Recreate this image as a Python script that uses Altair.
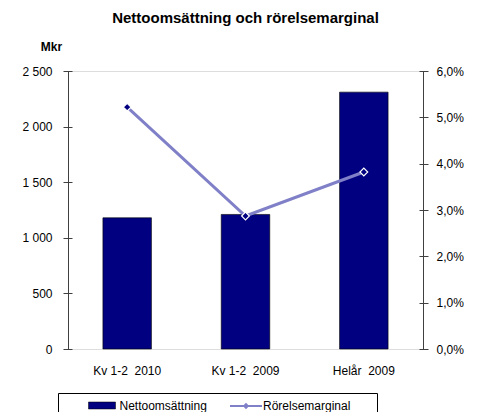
import altair as alt
import pandas as pd

categories = ["Kv 1-2\u00a0\u00a02010", "Kv 1-2\u00a0\u00a02009", "Helår\u00a0\u00a02009"]
net_sales = [1180, 1210, 2310]
margin = [0.0522, 0.0287, 0.0382]
series = ["Nettoomsättning", "Rörelsemarginal"]
left_ticks = [0, 500, 1000, 1500, 2000, 2500]
right_ticks = [0, 0.01, 0.02, 0.03, 0.04, 0.05, 0.06]

df = pd.DataFrame({
    "cat": categories,
    "sales": net_sales,
    "margin": margin,
    "s_bar": series[0],
    "s_line": series[1],
})

FONT = "Liberation Sans"
NAVY = "#000080"
LINE = "#8080C8"
AXC = "#404040"
FS = 12

xenc = alt.X("cat:N", sort=categories, title=None,
             scale=alt.Scale(paddingInner=0.59, paddingOuter=0.295),
             axis=alt.Axis(labelAngle=0, domain=False, ticks=False, tickSize=0,
                           labelPadding=16, labelFontSize=FS, labelFont=FONT,
                           labelColor="#000000"))

legend_bar = alt.Legend(
    title="\u00a0", titleOrient="right", titlePadding=167,
    orient="none", legendX=-10, legendY=322,
    strokeColor="#000000", padding=3, labelFont=FONT, labelFontSize=FS,
    labelColor="#000000", symbolSize=324, symbolOffset=31.5, labelOffset=8,
    symbolType="M-1.5,-0.39H1.5V0.39H-1.5Z",
    symbolStrokeColor="#000000", symbolStrokeWidth=0.5,
)

legend_line = alt.Legend(
    title=None, orient="none", legendX=168, legendY=325, padding=0,
    labelFont=FONT, labelFontSize=FS, labelColor="#000000",
    symbolSize=324, symbolOffset=0, labelOffset=7,
    symbolType="M-1.78,0H1.78M-0.2,0L0,-0.2L0.2,0L0,0.2Z",
    symbolStrokeWidth=2,
)

left_scale = alt.Scale(domain=[0, 2500], nice=False)
right_scale = alt.Scale(domain=[0, 0.06], nice=False)

right_axis = alt.Axis(orient="right", values=right_ticks,
                      grid=False, title=None,
                      labelExpr="replace(format(datum.value, '.1%'), '.', ',')",
                      domainColor=AXC, tickColor="transparent", tickSize=5,
                      labelFont=FONT, labelFontSize=FS, labelColor="#000000",
                      labelPadding=8)

bars = alt.Chart(df).mark_bar(stroke="#000000", strokeWidth=0.6).encode(
    x=xenc,
    y=alt.Y("sales:Q", scale=left_scale,
            axis=alt.Axis(values=left_ticks, grid=False,
                          labelExpr="replace(format(datum.value, ','), ',', ' ')",
                          title="Mkr", titleAngle=0, titleX=-17, titleY=-25,
                          titleAlign="center", titleBaseline="middle",
                          titleFont=FONT, titleFontSize=FS, titleFontWeight="bold",
                          titleColor="#000000",
                          domainColor=AXC, tickColor="transparent", tickSize=5,
                          labelFont=FONT, labelFontSize=FS, labelColor="#000000",
                          labelPadding=11)),
    fill=alt.Fill("s_bar:N", scale=alt.Scale(domain=[series[0]], range=[NAVY]),
                  legend=legend_bar),
)

# crossing tick marks for the left axis (no labels, no domain line)
left_cross = alt.Chart(df).mark_point(opacity=0).encode(
    x=xenc,
    y=alt.Y("sales:Q", scale=left_scale,
            axis=alt.Axis(orient="left", values=left_ticks, grid=False, title=None,
                          labels=False, domain=False, tickSize=9, offset=-4,
                          tickColor=AXC)),
)

line = alt.Chart(df).mark_line(strokeWidth=3).encode(
    x=xenc,
    y=alt.Y("margin:Q", scale=right_scale, axis=right_axis),
    stroke=alt.Stroke("s_line:N", scale=alt.Scale(domain=[series[1]], range=[LINE]),
                      legend=legend_line),
)

points = alt.Chart(df).mark_point(shape="diamond", filled=True, fill=NAVY,
                                  stroke="#FFFFFF", strokeWidth=1.2, size=60,
                                  opacity=1).encode(
    x=xenc,
    y=alt.Y("margin:Q", scale=right_scale, axis=right_axis),
)

right = alt.layer(line, points)

# crossing tick marks for the right axis
right_cross = alt.Chart(df).mark_point(opacity=0).encode(
    x=xenc,
    y=alt.Y("margin:Q", scale=right_scale,
            axis=alt.Axis(orient="right", values=right_ticks, grid=False, title=None,
                          labels=False, domain=False, tickSize=9, offset=-4,
                          tickColor=AXC)),
)

chart = alt.layer(bars, left_cross, right, right_cross).resolve_scale(
    y="independent").properties(
    width=355, height=278,
    autosize=alt.AutoSizeParams(type="none"),
    padding={"left": 68, "top": 71, "right": 64, "bottom": 63},
    title=alt.TitleParams("Nettoomsättning och rörelsemarginal", font=FONT,
                          fontSize=15, fontWeight="bold", color="#000000",
                          anchor="middle", frame="group", offset=14),
).configure_view(strokeWidth=0, stroke="transparent").configure(background="#FFFFFF")

chart.save("out.html", embed_options={"renderer": "svg", "actions": False})
